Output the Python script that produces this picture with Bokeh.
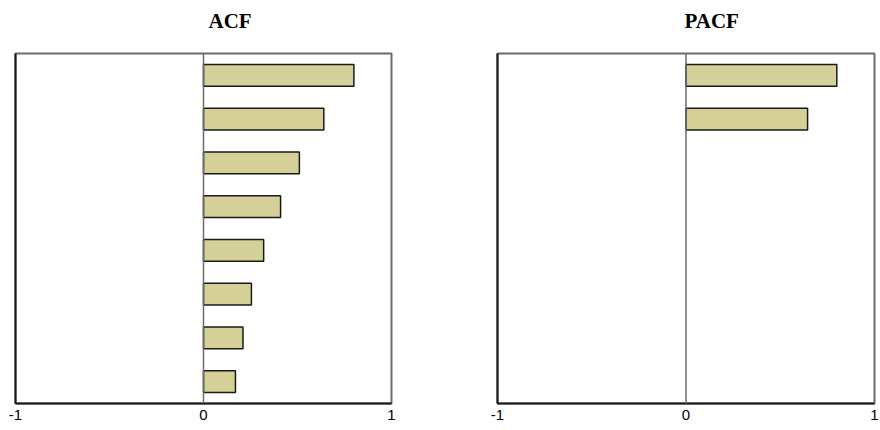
from bokeh.plotting import figure
from bokeh.layouts import row
from bokeh.models import Range1d, FixedTicker, Span, Title, ColumnDataSource, LinearAxis
from bokeh.embed import file_html
from bokeh.resources import INLINE

# ---- data ----
acf_lags = [1, 2, 3, 4, 5, 6, 7, 8]
acf_vals = [0.80, 0.64, 0.51, 0.41, 0.32, 0.255, 0.21, 0.17]
pacf_lags = [1, 2]
pacf_vals = [0.80, 0.645]
x_ticks = [-1, 0, 1]
n_lags = 8
titles = ["ACF", "PACF"]

BAR_FILL = "#D5D097"
FRAME_GREY = "#6b6b6b"
DARK = "#1a1a1a"


def make(title, lags, vals, width, bl, br, title_offset):
    p = figure(width=width, height=428,
               x_range=Range1d(-1, 1), y_range=Range1d(n_lags + 0.5, 0.5),
               output_backend="svg", toolbar_location=None,
               min_border_left=bl, min_border_right=br,
               min_border_top=53, min_border_bottom=25)
    p.grid.visible = False
    p.outline_line_color = FRAME_GREY
    p.outline_line_width = 2
    p.background_fill_color = "white"
    p.border_fill_color = "white"

    xa = p.xaxis[0]
    xa.ticker = FixedTicker(ticks=x_ticks)
    xa.major_label_overrides = {-1: "-1", 0: "0", 1: "1"}
    xa.major_tick_line_color = None
    xa.minor_tick_line_color = None
    xa.major_tick_out = 0
    xa.major_tick_in = 0
    xa.axis_line_color = DARK
    xa.axis_line_width = 2
    xa.major_label_text_font = "Liberation Sans"
    xa.major_label_text_font_size = "15px"
    xa.major_label_text_color = "black"
    xa.major_label_standoff = 6

    ya = p.yaxis[0]
    ya.ticker = FixedTicker(ticks=[])
    ya.major_tick_line_color = None
    ya.minor_tick_line_color = None
    ya.major_tick_out = 0
    ya.major_tick_in = 0
    ya.major_label_standoff = 0
    ya.axis_line_color = DARK
    ya.axis_line_width = 2

    # invisible spacer axis above the frame, to lift the title
    spacer = LinearAxis(ticker=FixedTicker(ticks=[0]), axis_line_color=None,
                        major_tick_line_color=None, minor_tick_line_color=None,
                        major_tick_out=21, major_tick_in=0, major_label_standoff=0,
                        major_label_text_font_size="1px",
                        major_label_text_color=None)
    p.add_layout(spacer, "above")

    p.add_layout(Span(location=0, dimension="height",
                      line_color=FRAME_GREY, line_width=1.5))

    src = ColumnDataSource(dict(lag=lags, val=vals))
    p.hbar(y="lag", left=0, right="val", height=0.5, source=src,
           fill_color=BAR_FILL, line_color=DARK, line_width=1.5)

    p.add_layout(Title(text=title, align="left", offset=title_offset,
                       standoff=0, vertical_align="bottom",
                       text_font="Liberation Serif", text_font_style="bold",
                       text_font_size="21px", text_color="black"), "above")
    return p


p1 = make(titles[0], acf_lags, acf_vals, 444, 15, 53, 193)
p2 = make(titles[1], pacf_lags, pacf_vals, 436, 53, 6, 187)

layout = row(p1, p2)
open("out.html", "w").write(file_html(layout, INLINE))
